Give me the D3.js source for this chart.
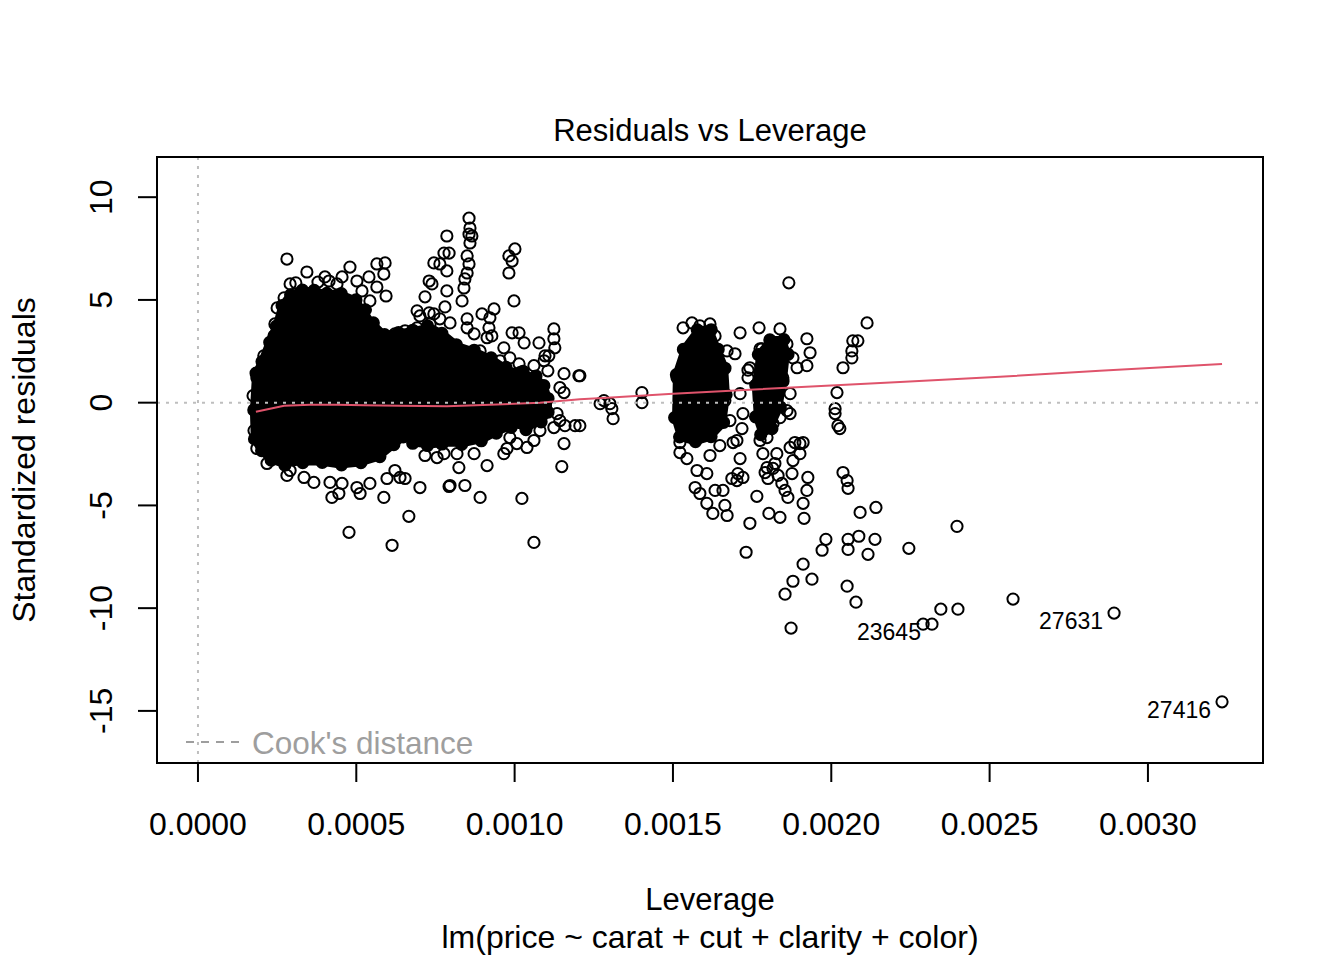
<!DOCTYPE html>
<html>
<head>
<meta charset="utf-8">
<script src="https://cdn.jsdelivr.net/npm/d3@7"></script>
<style>
body { margin: 0; background: #fff; }
svg text { font-family: "Liberation Sans", Arial, sans-serif; }
</style>
</head>
<body>
<div id="chart"></div>
<script>
const xTicks = [0, 0.0005, 0.001, 0.0015, 0.002, 0.0025, 0.003]
const yTicks = [-15, -10, -5, 0, 5, 10]

// overplotted cores, where the circles merge into solid black  [leverage, std. residual]
const blobOutline = [
    [1.71e-4, 1.46], [1.90e-4, 2.04], [2.15e-4, 3.01], [2.37e-4, 3.83], [2.56e-4, 4.85], [2.84e-4, 5.39],
    [3.22e-4, 5.63], [3.60e-4, 5.63], [4.01e-4, 5.49], [4.48e-4, 5.49], [4.96e-4, 5.19], [5.27e-4, 4.71],
    [5.53e-4, 4.08], [5.91e-4, 3.50], [6.38e-4, 3.59], [6.85e-4, 3.69], [7.33e-4, 3.88], [7.80e-4, 3.50],
    [8.27e-4, 2.91], [8.84e-4, 2.62], [9.38e-4, 2.23], [9.85e-4, 1.75], [1.039e-3, 1.55], [1.080e-3, 1.31],
    [1.105e-3, 0.83], [1.118e-3, 0.19], [1.118e-3, -0.49], [1.096e-3, -0.97], [1.048e-3, -1.36], [1.001e-3, -1.26],
    [9.54e-4, -1.55], [9.06e-4, -1.94], [8.43e-4, -2.14], [7.80e-4, -2.14], [7.33e-4, -2.23], [6.85e-4, -2.14],
    [6.54e-4, -1.84], [6.22e-4, -2.23], [5.75e-4, -2.82], [5.12e-4, -3.11], [4.48e-4, -3.20], [3.85e-4, -3.06],
    [3.22e-4, -3.06], [2.65e-4, -3.16], [2.21e-4, -2.91], [1.90e-4, -2.43], [1.67e-4, -1.84], [1.64e-4, -0.39]
]
const clusterAOutline = [
    [1.500e-3, 1.46], [1.528e-3, 2.77], [1.576e-3, 3.74], [1.623e-3, 3.74], [1.648e-3, 2.77], [1.674e-3, 1.80],
    [1.680e-3, 0.34], [1.667e-3, -1.12], [1.623e-3, -1.84], [1.570e-3, -2.09], [1.516e-3, -1.84], [1.497e-3, -0.87]
]
const clusterBOutline = [
    [1.765e-3, 2.52], [1.806e-3, 3.25], [1.854e-3, 3.25], [1.870e-3, 2.52], [1.860e-3, 1.07],
    [1.844e-3, -0.39], [1.813e-3, -1.46], [1.775e-3, -1.75], [1.756e-3, -0.87], [1.749e-3, 0.83]
]

// single observations around the first cloud
const blobPoints = [
    [2.81e-4, 6.99], [3.44e-4, 6.36], [4.01e-4, 6.12], [4.14e-4, 5.92], [4.55e-4, 6.12], [4.80e-4, 6.60],
    [5.02e-4, 5.92], [5.40e-4, 6.12], [5.65e-4, 6.75], [5.91e-4, 6.80], [5.87e-4, 6.26], [5.65e-4, 5.63],
    [5.94e-4, 5.19], [5.43e-4, 4.95], [2.91e-4, 5.78], [2.72e-4, 5.10], [2.50e-4, 4.61], [2.43e-4, 3.83],
    [2.40e-4, 3.25], [2.08e-4, 2.28], [1.86e-4, 1.21], [3.09e-4, 5.83], [3.79e-4, 5.87], [4.39e-4, 5.78],
    [5.18e-4, 5.44], [1.74e-4, 0.34], [1.77e-4, -1.36],
    [8.56e-4, 8.98], [8.59e-4, 8.50], [8.56e-4, 8.20], [8.65e-4, 8.11], [8.59e-4, 7.77], [8.50e-4, 7.14],
    [8.56e-4, 6.75], [8.50e-4, 6.31], [8.43e-4, 6.02], [8.40e-4, 5.58], [8.34e-4, 4.95], [7.86e-4, 8.11],
    [7.77e-4, 7.28], [7.93e-4, 7.28], [7.45e-4, 6.80], [7.64e-4, 6.75], [7.86e-4, 6.41], [7.30e-4, 5.92],
    [7.39e-4, 5.78], [7.86e-4, 5.44], [7.17e-4, 5.15], [7.80e-4, 4.66], [6.92e-4, 4.47], [7.01e-4, 4.22],
    [7.30e-4, 4.37], [7.45e-4, 4.32], [6.92e-4, 3.64], [7.33e-4, 3.83], [7.64e-4, 4.08], [7.96e-4, 3.88],
    [8.50e-4, 4.08], [6.54e-4, 3.50], [6.22e-4, 3.35],
    [9.82e-4, 7.14], [1.001e-3, 7.48], [9.92e-4, 6.89], [9.82e-4, 6.31], [9.98e-4, 4.95], [8.97e-4, 4.32],
    [9.35e-4, 4.56], [9.22e-4, 4.13], [9.19e-4, 3.64], [9.28e-4, 3.25], [9.13e-4, 3.16], [8.50e-4, 3.64],
    [8.72e-4, 3.35], [9.92e-4, 3.40], [1.014e-3, 3.40], [1.030e-3, 2.91], [1.077e-3, 2.91], [1.124e-3, 3.59],
    [1.124e-3, 3.11], [1.127e-3, 2.67], [1.096e-3, 2.28], [1.108e-3, 2.28], [1.093e-3, 2.04], [1.061e-3, 1.80],
    [9.66e-4, 2.67], [9.85e-4, 2.18], [1.014e-3, 1.89], [1.156e-3, 1.41], [1.203e-3, 1.31], [1.143e-3, 0.73],
    [1.156e-3, 0.49], [8.91e-4, 2.52], [9.54e-4, 2.04], [1.017e-3, 1.46], [1.105e-3, 1.55],
    [1.134e-3, -0.53], [1.143e-3, -0.87], [1.124e-3, -1.21], [1.159e-3, -1.12], [1.191e-3, -1.12],
    [1.156e-3, -1.99], [1.149e-3, -3.11], [1.061e-3, -6.80], [1.080e-3, -1.36], [9.85e-4, -1.70],
    [1.023e-3, -4.66], [9.66e-4, -2.48], [9.76e-4, -2.23], [1.007e-3, -1.99], [1.039e-3, -2.18],
    [1.061e-3, -1.84], [9.13e-4, -3.06], [8.91e-4, -4.61], [8.43e-4, -4.03], [7.96e-4, -4.03], [8.24e-4, -3.16],
    [7.55e-4, -2.67], [7.77e-4, -2.48], [8.18e-4, -2.48], [8.72e-4, -2.48], [7.17e-4, -2.57],
    [7.01e-4, -4.13], [6.66e-4, -5.53], [6.13e-4, -6.94], [5.87e-4, -4.61], [5.12e-4, -4.42], [4.45e-4, -4.42],
    [4.23e-4, -4.61], [4.77e-4, -6.31], [2.81e-4, -3.54], [3.35e-4, -3.64], [3.66e-4, -3.88], [4.17e-4, -3.88],
    [4.55e-4, -3.93], [5.02e-4, -4.13], [5.43e-4, -3.93], [5.97e-4, -3.69], [6.38e-4, -3.64], [6.54e-4, -3.69],
    [6.22e-4, -3.30], [2.18e-4, -2.96], [1.86e-4, -2.23], [2.91e-4, -3.30], [7.93e-4, -4.08]
]

// observations between 0.0012 and 0.0022
const middlePoints = [
    [1.206e-3, 1.31], [1.206e-3, -1.12], [1.270e-3, -0.05], [1.301e-3, -0.05], [1.311e-3, -0.78],
    [1.307e-3, -0.29], [1.282e-3, 0.10], [1.402e-3, 0.49], [1.402e-3, 0],
    [1.585e-3, 3.74], [1.617e-3, 3.83], [1.601e-3, 3.25], [1.633e-3, 3.25], [1.585e-3, 2.86], [1.554e-3, 2.52],
    [1.544e-3, 2.04], [1.563e-3, 1.70], [1.671e-3, 2.52], [1.696e-3, 2.38], [1.513e-3, 1.21], [1.532e-3, 3.64],
    [1.560e-3, 3.88], [1.522e-3, -1.94], [1.522e-3, -2.43], [1.544e-3, -2.72], [1.576e-3, -3.30],
    [1.607e-3, -3.45], [1.570e-3, -4.13], [1.585e-3, -4.42], [1.607e-3, -4.90], [1.626e-3, -5.39],
    [1.671e-3, -5.49], [1.664e-3, -5.00], [1.633e-3, -4.27], [1.658e-3, -4.27], [1.712e-3, -2.72],
    [1.705e-3, -3.45], [1.702e-3, -3.79], [1.721e-3, -3.64], [1.686e-3, -3.69], [1.743e-3, 1.70],
    [1.737e-3, 1.21], [1.712e-3, 0.44], [1.721e-3, -0.53], [1.718e-3, -1.26], [1.702e-3, -1.84],
    [1.690e-3, -1.94], [1.772e-3, 3.64], [1.712e-3, 3.40], [1.664e-3, 0.10], [1.680e-3, -0.87],
    [1.648e-3, -2.09], [1.617e-3, -2.57], [1.775e-3, 2.62], [1.737e-3, 1.58], [1.784e-3, -2.48],
    [1.822e-3, -2.96], [1.797e-3, -3.16],
    [1.838e-3, 3.59], [1.923e-3, 3.11], [1.933e-3, 2.43], [1.879e-3, 2.18], [1.892e-3, 1.70], [1.923e-3, 1.80],
    [1.860e-3, 2.86], [1.847e-3, 1.21], [1.870e-3, 0.44], [1.860e-3, -0.39], [1.870e-3, -0.53],
    [1.838e-3, -0.73], [1.816e-3, -1.02], [1.797e-3, -1.70], [1.775e-3, -1.84], [1.781e-3, 2.62],
    [1.866e-3, 5.83], [2.113e-3, 3.88], [2.068e-3, 3.01], [2.084e-3, 3.01], [2.065e-3, 2.52], [2.065e-3, 2.18],
    [2.037e-3, 1.70], [2.018e-3, 0.49], [2.012e-3, -0.29], [2.012e-3, -0.53], [2.021e-3, -1.12],
    [2.027e-3, -1.26], [2.037e-3, -3.40], [2.050e-3, -3.79], [2.053e-3, -4.17], [2.091e-3, -5.34],
    [2.141e-3, -5.10], [1.983e-3, -6.65], [1.971e-3, -7.18], [2.053e-3, -6.65], [2.053e-3, -7.14],
    [2.087e-3, -6.50], [2.138e-3, -6.65], [2.116e-3, -7.38], [2.397e-3, -6.02], [2.245e-3, -7.09],
    [1.911e-3, -7.86], [1.879e-3, -8.69], [1.939e-3, -8.59], [1.854e-3, -9.32], [2.050e-3, -8.93],
    [2.078e-3, -9.71], [1.873e-3, -10.97], [1.731e-3, -7.28], [1.743e-3, -5.87], [1.765e-3, -4.56],
    [1.803e-3, -5.39], [1.838e-3, -5.58], [1.914e-3, -5.63], [1.911e-3, -4.90], [1.923e-3, -4.27],
    [1.926e-3, -3.64], [1.901e-3, -1.99], [1.911e-3, -1.94], [1.816e-3, -3.20], [1.832e-3, -3.54],
    [1.844e-3, -3.93], [1.854e-3, -4.27], [1.863e-3, -4.61], [1.828e-3, -2.48], [1.870e-3, -2.18],
    [1.885e-3, -1.94], [1.901e-3, -2.48], [1.879e-3, -2.82], [1.876e-3, -3.45], [1.791e-3, -3.40],
    [1.800e-3, -3.69]
]

const tailPoints = [
    [2.290e-3, -10.78], [2.318e-3, -10.78], [2.346e-3, -10.05], [2.400e-3, -10.05], [2.574e-3, -9.56],
    [2.893e-3, -10.24], [3.234e-3, -14.56]
]
const labelled = [
    { lev: 2.318e-3, res: -10.78, id: '23645' },
    { lev: 2.893e-3, res: -10.24, id: '27631' },
    { lev: 3.234e-3, res: -14.56, id: '27416' }
]

const smoothLev = [1.83e-4, 2.72e-4, 3.54e-4, 4.39e-4, 5.24e-4, 6.38e-4, 7.86e-4, 9.22e-4, 1.080e-3,
    1.206e-3, 1.292e-3, 1.500e-3, 1.743e-3, 1.999e-3, 2.217e-3, 2.533e-3, 2.848e-3, 3.234e-3]
const smoothRes = [-0.44, -0.15, -0.10, -0.10, -0.12, -0.15, -0.18, -0.10, 0.00,
    0.17, 0.24, 0.44, 0.63, 0.83, 1.00, 1.26, 1.55, 1.88]

const width = 1344, height = 960
const plotL = 157, plotR = 1263, plotT = 157, plotB = 763
const radius = 5.6

const allPoints = blobPoints.concat(middlePoints, tailPoints)

// R style limits: x from 0, y range widened by 8%, then both padded by 4%
const xMax = d3.max(allPoints, d => d[0])
const yExt = d3.extent(allPoints, d => d[1])
const ySpan = yExt[1] - yExt[0]
const yLim = [yExt[0] - 0.08 * ySpan, yExt[1] + 0.08 * ySpan]
const yPad = (yLim[1] - yLim[0]) * 0.04

const x = d3.scaleLinear().domain([-0.04 * xMax, xMax * 1.04]).range([plotL, plotR])
const y = d3.scaleLinear().domain([yLim[0] - yPad, yLim[1] + yPad]).range([plotB, plotT])

const svg = d3.select('#chart')
    .append('svg')
    .attr('width', width)
    .attr('height', height)
    .style('background', '#fff')

const outlines = [blobOutline, clusterAOutline, clusterBOutline]
const hull = d3.line().x(d => x(d[0])).y(d => y(d[1])).curve(d3.curveLinearClosed)

svg.append('g')
    .selectAll('path')
    .data(outlines)
    .enter()
    .append('path')
        .attr('d', hull)
        .style('fill', '#000')

// the outline vertices are edge observations too, drawn a little inside so the edge is scalloped
const edgeCircles = []
outlines.forEach(outline => {
    const px = outline.map(d => [x(d[0]), y(d[1])])
    const c = d3.polygonCentroid(px)
    px.forEach(p => {
        const dx = c[0] - p[0], dy = c[1] - p[1]
        const len = Math.sqrt(dx * dx + dy * dy)
        edgeCircles.push([p[0] + dx / len * 4, p[1] + dy / len * 4])
    })
})

svg.append('g')
    .selectAll('circle')
    .data(edgeCircles)
    .enter()
    .append('circle')
        .attr('cx', d => d[0])
        .attr('cy', d => d[1])
        .attr('r', radius)
        .style('fill', '#000')
        .style('stroke', '#000')
        .style('stroke-width', 2)

svg.append('g')
    .selectAll('circle')
    .data(allPoints)
    .enter()
    .append('circle')
        .attr('cx', d => x(d[0]))
        .attr('cy', d => y(d[1]))
        .attr('r', radius)
        .style('fill', 'none')
        .style('stroke', '#000')
        .style('stroke-width', 2)

svg.append('path')
    .datum(d3.zip(smoothLev, smoothRes))
    .attr('d', d3.line().x(d => x(d[0])).y(d => y(d[1])))
    .style('fill', 'none')
    .style('stroke', '#DF536B')
    .style('stroke-width', 2)

// reference lines at zero
svg.append('line')
    .attr('x1', plotL).attr('x2', plotR)
    .attr('y1', y(0)).attr('y2', y(0))
    .style('stroke', '#BEBEBE').style('stroke-width', 2).style('stroke-dasharray', '3,6')
svg.append('line')
    .attr('x1', x(0)).attr('x2', x(0))
    .attr('y1', plotT).attr('y2', plotB)
    .style('stroke', '#BEBEBE').style('stroke-width', 2).style('stroke-dasharray', '3,6')

svg.append('g')
    .selectAll('text')
    .data(labelled)
    .enter()
    .append('text')
        .attr('x', d => x(d.lev) - 11)
        .attr('y', d => y(d.res) + 16)
        .attr('text-anchor', 'end')
        .style('font-size', '23px')
        .text(d => d.id)

// legend
svg.append('line')
    .attr('x1', 186).attr('x2', 243)
    .attr('y1', 742).attr('y2', 742)
    .style('stroke', '#9E9E9E').style('stroke-width', 2).style('stroke-dasharray', '8,7')
svg.append('text')
    .attr('x', 252).attr('y', 754)
    .style('fill', '#9E9E9E')
    .style('font-size', '31.5px')
    .text("Cook's distance")

svg.append('rect')
    .attr('x', plotL).attr('y', plotT)
    .attr('width', plotR - plotL).attr('height', plotB - plotT)
    .style('fill', 'none').style('stroke', '#000').style('stroke-width', 2)

// axes
const xAxis = svg.append('g')
xAxis.selectAll('line')
    .data(xTicks)
    .enter()
    .append('line')
        .attr('x1', d => x(d)).attr('x2', d => x(d))
        .attr('y1', plotB).attr('y2', plotB + 19)
        .style('stroke', '#000').style('stroke-width', 2)
xAxis.selectAll('text')
    .data(xTicks)
    .enter()
    .append('text')
        .attr('x', d => x(d))
        .attr('y', 835)
        .attr('text-anchor', 'middle')
        .style('font-size', '32px')
        .text(d => d3.format('.4f')(d))

const yAxis = svg.append('g')
yAxis.selectAll('line')
    .data(yTicks)
    .enter()
    .append('line')
        .attr('x1', plotL - 19).attr('x2', plotL)
        .attr('y1', d => y(d)).attr('y2', d => y(d))
        .style('stroke', '#000').style('stroke-width', 2)
yAxis.selectAll('text')
    .data(yTicks)
    .enter()
    .append('text')
        .attr('transform', d => 'translate(112,' + y(d) + ') rotate(-90)')
        .attr('text-anchor', 'middle')
        .style('font-size', '32px')
        .text(d => String(d))

svg.append('text')
    .attr('x', (plotL + plotR) / 2).attr('y', 141)
    .attr('text-anchor', 'middle')
    .style('font-size', '31px')
    .text('Residuals vs Leverage')
svg.append('text')
    .attr('x', (plotL + plotR) / 2).attr('y', 910)
    .attr('text-anchor', 'middle')
    .style('font-size', '31px')
    .text('Leverage')
svg.append('text')
    .attr('x', (plotL + plotR) / 2).attr('y', 948)
    .attr('text-anchor', 'middle')
    .style('font-size', '32px')
    .text('lm(price ~ carat + cut + clarity + color)')
svg.append('text')
    .attr('transform', 'translate(35,' + (plotT + plotB) / 2 + ') rotate(-90)')
    .attr('text-anchor', 'middle')
    .style('font-size', '32px')
    .text('Standardized residuals')
</script>
</body>
</html>
